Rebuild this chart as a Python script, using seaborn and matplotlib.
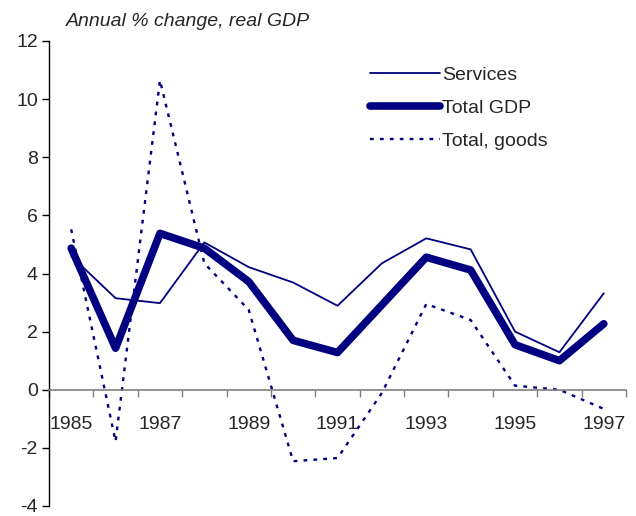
import numpy as np
import pandas as pd
import seaborn as sns
import matplotlib.pyplot as plt

years = [1985, 1986, 1987, 1988, 1989, 1990, 1991, 1992, 1993, 1994, 1995, 1996, 1997]
services = [4.6, 3.15, 2.98, 5.07, 4.22, 3.69, 2.89, 4.35, 5.21, 4.83, 2.0, 1.29, 3.32]
total_gdp = [4.87, 1.43, 5.38, 4.87, 3.72, 1.7, 1.28, 2.92, 4.56, 4.12, 1.55, 1.0, 2.27]
total_goods = [5.52, -1.78, 10.65, 4.35, 2.75, -2.46, -2.35, -0.11, 2.95, 2.4, 0.14, 0.0, -0.66]

df = pd.DataFrame({'pos': np.arange(len(years)), 'year': years,
                   'Services': services, 'Total GDP': total_gdp,
                   'Total, goods': total_goods})

sns.set_style('white')
plt.rcParams['font.family'] = ['Liberation Sans', 'DejaVu Sans']
plt.rcParams['axes.unicode_minus'] = False
navy = '#000080'

fig = plt.figure(figsize=(6.36, 5.16), dpi=100)
ax = fig.add_axes([49 / 636, 1 - 506 / 516, (626 - 49) / 636, (506 - 41) / 516])

sns.lineplot(data=df, x='pos', y='Services', ax=ax, color=navy, lw=1.3,
             label='Services')
sns.lineplot(data=df, x='pos', y='Total GDP', ax=ax, color=navy, lw=5.5,
             solid_capstyle='round', solid_joinstyle='round', label='Total GDP')
sns.lineplot(data=df, x='pos', y='Total, goods', ax=ax, color=navy, lw=1.7,
             dashes=(1.6, 2.6), label='Total, goods')

ax.set_xlim(-0.5, len(years) - 0.5)
ax.set_ylim(-4, 12)
ax.set_yticks(range(-4, 13, 2))
ax.tick_params(axis='y', direction='out', length=5, width=1, color='black',
               labelsize=14, pad=3, left=True)

# category axis: tick marks between categories, labels every second year
ax.set_xticks(np.arange(-0.5, len(years), 1.0))
ax.set_xticklabels([])
ax.set_xticks(df['pos'][::2], minor=True)
ax.set_xticklabels([str(y) for y in years[::2]], minor=True)
ax.tick_params(axis='x', which='major', direction='out', length=5, width=1,
               color='#808080', bottom=True)
ax.tick_params(axis='x', which='minor', length=0, labelsize=14, pad=19)

ax.set_xlabel('')
ax.set_ylabel('')
for s in ['top', 'right']:
    ax.spines[s].set_visible(False)
ax.spines['left'].set_color('black')
ax.spines['left'].set_linewidth(1)
ax.spines['bottom'].set_position(('data', 0))
ax.spines['bottom'].set_color('#808080')
ax.spines['bottom'].set_linewidth(1.2)

fig.text(66 / 636, 1 - 22 / 516, 'Annual % change, real GDP', fontsize=14,
         style='italic', va='center', ha='left')

ax.legend(loc='upper left', bbox_to_anchor=(370 / 636, 1 - 66 / 516),
          bbox_transform=fig.transFigure, frameon=False, fontsize=14,
          handlelength=3.6, handletextpad=0.1, labelspacing=0.8,
          borderpad=0, borderaxespad=0)

fig.savefig('out.png', dpi=100)
